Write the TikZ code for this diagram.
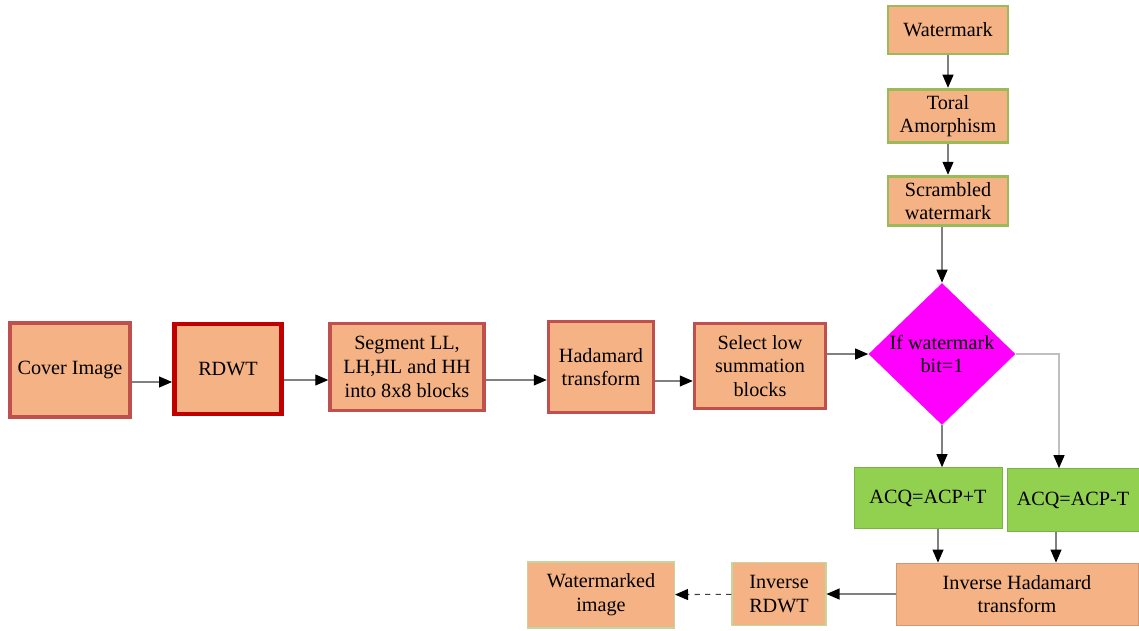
\documentclass[tikz,border=0pt]{standalone}
\usepackage{fontspec}
\setmainfont{Liberation Serif}
\usetikzlibrary{shapes.geometric, arrows.meta, calc}
\definecolor{peach}{RGB}{245,178,132}
\definecolor{redline}{RGB}{192,80,77}
\definecolor{darkred}{RGB}{192,0,0}
\definecolor{oliveline}{RGB}{155,187,89}
\definecolor{leaf}{RGB}{146,208,80}
\definecolor{pinkish}{RGB}{255,0,255}
\tikzstyle{inputbox} = [rectangle, 
minimum width=2.4cm, 
minimum height=0.96cm,
align=center, 
draw=oliveline, 
line width=1.6pt,
fill=peach]
\tikzstyle{process} = [rectangle, 
align=center, 
draw=redline, 
line width=2pt,
fill=peach]
\tikzstyle{process_strong} = [process, 
draw=darkred, 
line width=2.8pt]
\tikzstyle{decision} = [diamond, 
minimum width=2.94cm, 
minimum height=2.84cm,
inner xsep=0pt, inner ysep=-0.5mm,
align=center, % two lines in the diamond
fill=pinkish]
\tikzstyle{embed} = [rectangle, 
align=center, 
draw=leaf!85!black, 
line width=0.4pt,
fill=leaf]
\tikzstyle{output} = [rectangle, 
align=center, 
draw=oliveline!60, 
line width=0.6pt,
fill=peach]
\tikzstyle{arrow} = [draw=gray, line width=0.6pt, -{Triangle[black, length=2.6mm, width=2.2mm]}]

\begin{document}
\begin{tikzpicture}[x=0.02cm, y=-0.02cm, font=\fontsize{11.5}{13.5}\selectfont]
\useasboundingbox (0,0) rectangle (1139,630);

% watermark branch
\node (wm) [inputbox] at (948,30) {Watermark};
\node (toral) [inputbox] at (948,116) {Toral\\Amorphism};
\node (scr) [inputbox] at (948,201) {Scrambled\\watermark};

% cover image chain
\node (cover) [process, minimum width=2.4cm, minimum height=1.88cm] at (70,370) {Cover Image};
\node (rdwt) [process_strong, minimum width=2.14cm, minimum height=1.8cm] at (228,369) {RDWT};
\node (seg) [process, minimum width=3.08cm, minimum height=1.74cm] at (407,367) {Segment LL,\\LH,HL and HH\\into 8x8 blocks};
\node (had) [process, minimum width=2.1cm, minimum height=1.82cm] at (601,367) {Hadamard\\transform};
\node (sel) [process, minimum width=2.62cm, minimum height=1.7cm] at (760,366) {Select low\\summation\\blocks};

% decision
\node (dec) [decision] at (942,354) {If watermark\\bit=1};
\node (acqp) [embed, minimum width=2.96cm, minimum height=1.22cm] at (928,498) {ACQ=ACP+T};
\node (acqm) [embed, minimum width=2.64cm, minimum height=1.26cm] at (1073,500) {ACQ=ACP-T};

% inverse steps
\node (invhad) [process, draw=peach!85!black, line width=0.5pt, minimum width=4.84cm, minimum height=1.24cm] at (1017,594) {Inverse Hadamard\\transform};
\node (invrdwt) [output, minimum width=1.88cm, minimum height=1.26cm] at (779,594) {Inverse\\RDWT};
\node (wmimg) [output, minimum width=2.94cm, minimum height=1.32cm] at (601,595) {Watermarked\\image};

\draw [arrow] (wm) -- (toral);
\draw [arrow] (toral) -- (scr);
\draw [arrow] (dec.north |- scr.south) -- (dec.north);

\draw [arrow] ([yshift=-0.24cm]cover.east) -- ([yshift=-0.24cm]cover.east -| rdwt.west);
\draw [arrow] ([yshift=-0.22cm]rdwt.east) -- ([yshift=-0.22cm]rdwt.east -| seg.west);
\draw [arrow] ([yshift=-0.26cm]seg.east) -- ([yshift=-0.26cm]seg.east -| had.west);
\draw [arrow] ([yshift=-0.28cm]had.east) -- ([yshift=-0.28cm]had.east -| sel.west);
\draw [arrow] (sel.east |- dec.west) -- (dec.west);

\draw [arrow] (dec.south) -- (dec.south |- acqp.north);
\draw [arrow, draw=gray!50] (dec.east) -| ([xshift=-0.28cm]acqm.north);
\draw [arrow] ([xshift=0.2cm]acqp.south) -- ([xshift=0.2cm]acqp.south |- invhad.north);
\draw [arrow] ([xshift=-0.34cm]acqm.south) -- ([xshift=-0.34cm]acqm.south |- invhad.north);

\draw [arrow] (invhad) -- (invrdwt);
\draw [arrow, dashed, draw=black!75] (invrdwt) -- (wmimg);

\end{tikzpicture}
\end{document}
